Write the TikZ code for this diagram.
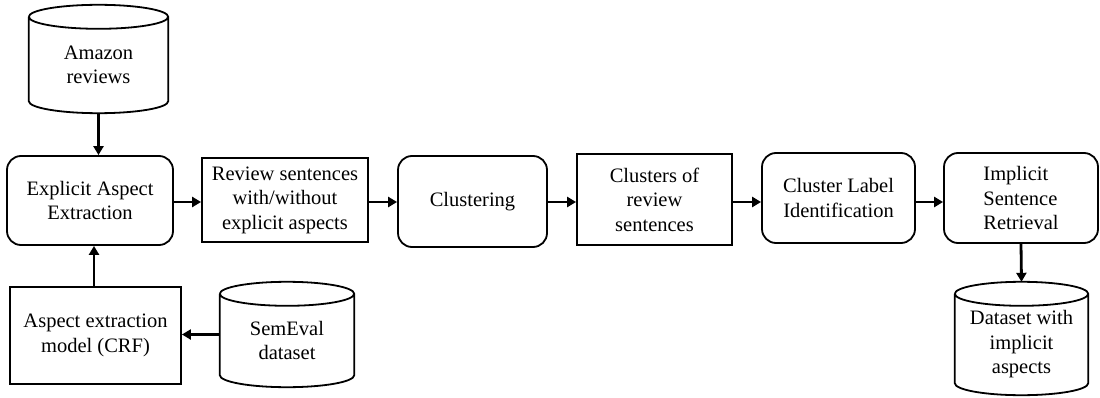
\documentclass[tikz,border=0pt]{standalone}
\usepackage{fontspec}
\setmainfont{Liberation Serif}
\usetikzlibrary{arrows.meta,calc}
\tikzset{
  shp/.style={draw=black,line width=1.8pt},
  box/.style={shp,rectangle,inner sep=2pt,align=center,font=\fontsize{20.5}{24.5}\selectfont},
  rbox/.style={box,rounded corners=14pt},
  cylbox/.style={rectangle,inner sep=0pt},
  txt/.style={align=center,font=\fontsize{20.5}{24.5}\selectfont},
  arr/.style={line width=2.8pt,-{Triangle[length=9pt,width=10pt]}}
}
\newcommand\drawcyl[1]{%
  \draw[shp] let \p1=(#1.north west), \p2=(#1.south east), \n1={(\x2-\x1)/2} in
   (\x1,\y1-12pt) -- (\x1,\y2+12pt) arc[start angle=180,end angle=360,x radius=\n1,y radius=12pt]
   -- (\x2,\y1-12pt) arc[start angle=0,end angle=180,x radius=\n1,y radius=12pt]
   (\x1,\y1-12pt) arc[start angle=180,end angle=360,x radius=\n1,y radius=12pt];}
\begin{document}
\begin{tikzpicture}[x=1pt,y=1pt]
\useasboundingbox (0,0) rectangle (1100,397);
% cylinders
\node[cylbox,minimum width=139pt,minimum height=108pt] (amz) at (98.5,338) {};
\drawcyl{amz}
\node[txt] at ($(amz.center)+(0,-6)$) {Amazon\\reviews};
\node[cylbox,minimum width=134pt,minimum height=105pt] (sem) at (287,62.5) {};
\drawcyl{sem}
\node[txt] at ($(sem.center)+(0,-6)$) {SemEval\\dataset};
\node[cylbox,minimum width=133pt,minimum height=113pt] (dsi) at (1021.5,58.5) {};
\drawcyl{dsi}
\node[txt] at ($(dsi.center)+(0,-6)$) {Dataset with\\implicit\\aspects};
% boxes
\node[rbox,minimum width=166pt,minimum height=89pt] (eae) at (90,196.5) {Explicit Aspect\\Extraction};
\node[box,minimum width=166pt,minimum height=84pt] (rs) at (285,197) {Review sentences\\with/without\\explicit aspects};
\node[box,minimum width=171pt,minimum height=97pt] (aem) at (95.5,61.5) {Aspect extraction\\model (CRF)};
\node[rbox,minimum width=149pt,minimum height=91pt] (clu) at (472.5,195.5) {Clustering};
\node[box,minimum width=155pt,minimum height=91pt] (crs) at (654.5,197.5) {Clusters of\\review\\sentences};
\node[rbox,minimum width=153pt,minimum height=90pt] (cli) at (838.5,199) {Cluster Label\\Identification};
\node[rbox,minimum width=154pt,minimum height=90pt,align=left] (isr) at (1021,199) {Implicit\\Sentence\\Retrieval};
% connectors
\draw[arr] (amz.south) -- (amz.south |- eae.north);
\draw[arr] (aem.north -| 94,0) -- (94,0 |- eae.south);
\draw[arr] (sem.west) -- (sem.west -| aem.east);
\draw[arr] (eae.east |- 0,195) -- (rs.west |- 0,195);
\draw[arr] (rs.east |- 0,195) -- (clu.west |- 0,195);
\draw[arr] (clu.east |- 0,195) -- (crs.west |- 0,195);
\draw[arr] (crs.east |- 0,195) -- (cli.west |- 0,195);
\draw[arr] (cli.east |- 0,195) -- (isr.west |- 0,195);
\draw[arr] (isr.south) -- (dsi.north);
\end{tikzpicture}
\end{document}
